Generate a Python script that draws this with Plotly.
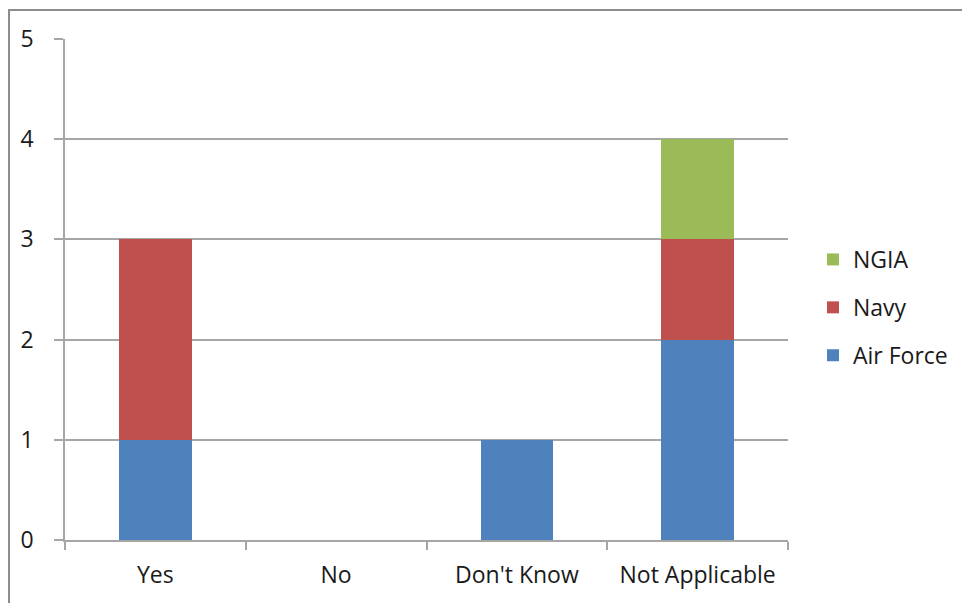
import plotly.graph_objects as go

categories = ["Yes", "No", "Don't Know", "Not Applicable"]
air_force = [1, 0, 1, 2]
navy = [2, 0, 0, 1]
ngia = [0, 0, 0, 1]
y_ticks = [0, 1, 2, 3, 4, 5]

# (name, values, colour, legend rank: top of legend first)
series = [
    ("Air Force", air_force, "#4F81BD", 3),
    ("Navy", navy, "#C0504D", 2),
    ("NGIA", ngia, "#9BBB59", 1),
]

FONT = "Open Sans, sans-serif"
TEXT = "#1a1a1a"
GRID = "#a6a6a6"
FS = 23

fig = go.Figure()
for name, vals, color, rank in series:
    fig.add_trace(go.Bar(
        x=categories, y=vals, name=name,
        marker=dict(color=color, line=dict(width=0)),
        legendgroup=name, legendrank=rank,
    ))

# plot area spans pixels 65..788 horizontally and 39..540 vertically
W, H = 962, 603
L, R, T, B = 65, 788, 39, 540
pw, ph = R - L, B - T

def px_x(p):
    return (p - L) / pw

def px_y(p):
    return (B - p) / ph

fig.update_layout(
    width=W, height=H,
    margin=dict(l=L, r=W - R, t=T, b=H - B, pad=0, autoexpand=False),
    paper_bgcolor="white", plot_bgcolor="white",
    barmode="stack", bargap=0.6,
    font=dict(family=FONT, size=FS, color=TEXT),
    showlegend=True,
    legend=dict(
        x=px_x(813), y=px_y(238), xanchor="left", yanchor="top",
        traceorder="grouped", tracegroupgap=15,
        font=dict(family=FONT, size=FS, color=TEXT),
        bgcolor="rgba(0,0,0,0)", itemwidth=30,
    ),
    xaxis=dict(
        type="category", range=[-0.5, 3.5],
        showline=True, linecolor=GRID, linewidth=1.5,
        ticks="outside", tickson="boundaries", ticklen=8,
        tickcolor=GRID, tickwidth=1.5,
        showgrid=False, ticklabelstandoff=14,
        tickfont=dict(family=FONT, size=FS, color=TEXT),
    ),
    yaxis=dict(
        range=[0, 5], tickvals=y_ticks,
        showline=True, linecolor=GRID, linewidth=1.5,
        ticks="outside", ticklen=9, tickcolor=GRID, tickwidth=1.5,
        showgrid=True, gridcolor=GRID, gridwidth=1.5,
        zeroline=False, ticklabelstandoff=16,
        tickfont=dict(family=FONT, size=FS, color=TEXT),
    ),
    shapes=[dict(
        type="rect", xref="paper", yref="paper",
        x0=px_x(9), x1=px_x(1100), y0=px_y(700), y1=px_y(10),
        line=dict(color="#8c8c8c", width=2), fillcolor="rgba(0,0,0,0)",
        layer="below",
    )],
)

fig.write_html("out.html")
